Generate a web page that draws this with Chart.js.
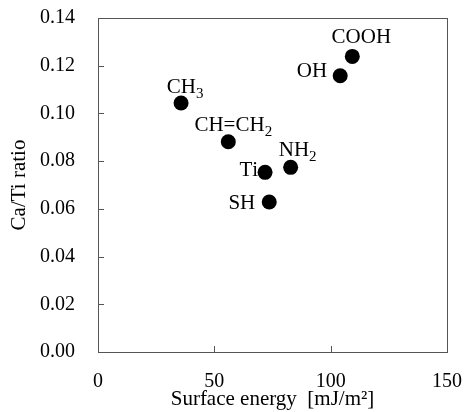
<!DOCTYPE html>
<html>
<head>
<meta charset="utf-8">
<script src="https://cdn.jsdelivr.net/npm/chart.js@4"></script>
<style>
  html, body { margin: 0; padding: 0; background: #fff; }
  #wrap { width: 465px; height: 412px; }
</style>
</head>
<body>
<div id="wrap"><canvas id="myChart"></canvas></div>
<script>
// surface groups, surface energy [mJ/m2] and Ca/Ti ratio
const groups = ['CH3', 'CH=CH2', 'Ti', 'NH2', 'SH', 'OH', 'COOH'];
const surfaceEnergy = [35.7, 56.0, 71.8, 82.8, 73.6, 104.1, 109.3];
const caTiRatio = [0.1044, 0.0881, 0.0753, 0.0774, 0.0629, 0.1158, 0.1239];

const xTicks = [0, 50, 100, 150];
const yTicks = [0, 0.02, 0.04, 0.06, 0.08, 0.10, 0.12, 0.14];

// where each group name sits around its dot (align, dx, baseline dy)
const labelPlace = [
    ['center', 4, -10],
    ['center', 5, -11],
    ['right', -7, 4],
    ['center', 7, -11],
    ['right', -14, 7],
    ['right', -13, 1],
    ['center', 9, -13]
];

const serif = "'Liberation Serif', 'Times New Roman', serif";

// draws a name with its digits lowered as subscripts
function drawChem(ctx, text, x, y, align) {
    const big = "21px " + serif, small = "15px " + serif;
    let parts = [];
    let w = 0;
    for (const ch of text) {
        const sub = /[0-9]/.test(ch);
        ctx.font = sub ? small : big;
        const cw = ctx.measureText(ch).width;
        parts.push([ch, sub, cw]);
        w += cw;
    }
    let cx = align == 'center' ? x - w / 2 : (align == 'right' ? x - w : x);
    ctx.textAlign = 'left';
    ctx.textBaseline = 'alphabetic';
    for (const p of parts) {
        ctx.font = p[1] ? small : big;
        ctx.fillText(p[0], cx, p[1] ? y + 5 : y);
        cx += p[2];
    }
}

const framePlugin = {
    id: 'frame',
    afterDatasetsDraw(chart) {
        const ctx = chart.ctx;
        const a = chart.chartArea;
        const xs = chart.scales.x, ys = chart.scales.y;
        ctx.save();
        ctx.strokeStyle = '#555';
        ctx.lineWidth = 1;
        ctx.strokeRect(a.left + 0.5, a.top + 0.5, a.right - a.left, a.bottom - a.top);
        // inward tick marks
        ctx.beginPath();
        xTicks.forEach(v => {
            const px = Math.round(xs.getPixelForValue(v)) + 0.5;
            ctx.moveTo(px, a.bottom);
            ctx.lineTo(px, a.bottom - 6);
        });
        yTicks.forEach(v => {
            const py = Math.round(ys.getPixelForValue(v)) + 0.5;
            ctx.moveTo(a.left, py);
            ctx.lineTo(a.left + 6, py);
        });
        ctx.stroke();
        // group names
        ctx.fillStyle = '#000';
        const meta = chart.getDatasetMeta(0);
        meta.data.forEach((pt, i) => {
            const lp = labelPlace[i];
            drawChem(ctx, groups[i], pt.x + lp[1], pt.y + lp[2], lp[0]);
        });
        ctx.restore();
    }
};

var ctx = document.getElementById('myChart');
var chart = new Chart(ctx, {
    type: 'scatter',
    data: {
        datasets: [{
            data: surfaceEnergy.map((x, i) => ({ x: x, y: caTiRatio[i] })),
            backgroundColor: '#000',
            borderWidth: 0,
            pointRadius: 7.5,
            pointHoverRadius: 7.5
        }]
    },
    options: {
        responsive: true,
        maintainAspectRatio: false,
        animation: false,
        layout: { padding: { top: 18, right: 18, left: 0, bottom: 0 } },
        plugins: {
            legend: { display: false },
            tooltip: { enabled: false }
        },
        scales: {
            x: {
                type: 'linear',
                min: 0,
                max: 150,
                afterBuildTicks: s => { s.ticks = xTicks.map(v => ({ value: v })); },
                afterFit: s => {
                    s.height = 60;
                    s.paddingLeft = 0;
                    s.paddingRight = 0;
                },
                grid: { display: false, drawTicks: false },
                border: { display: false },
                ticks: {
                    padding: 18,
                    color: '#000',
                    font: { family: serif, size: 20 }
                },
                title: {
                    display: true,
                    text: 'Surface energy  [mJ/m²]',
                    color: '#000',
                    font: { family: serif, size: 21 },
                    padding: { top: 0, bottom: 0 }
                }
            },
            y: {
                type: 'linear',
                min: 0,
                max: 0.14,
                afterBuildTicks: s => { s.ticks = yTicks.map(v => ({ value: v })); },
                afterFit: s => {
                    s.width = 98;
                    s.paddingTop = 0;
                    s.paddingBottom = 0;
                },
                grid: { display: false, drawTicks: false },
                border: { display: false },
                ticks: {
                    padding: 23,
                    color: '#000',
                    font: { family: serif, size: 20 },
                    callback: v => v.toFixed(2)
                },
                title: {
                    display: true,
                    text: 'Ca/Ti ratio',
                    color: '#000',
                    font: { family: serif, size: 21 },
                    padding: { top: 7, bottom: 0 }
                }
            }
        }
    },
    plugins: [framePlugin]
});
</script>
</body>
</html>
